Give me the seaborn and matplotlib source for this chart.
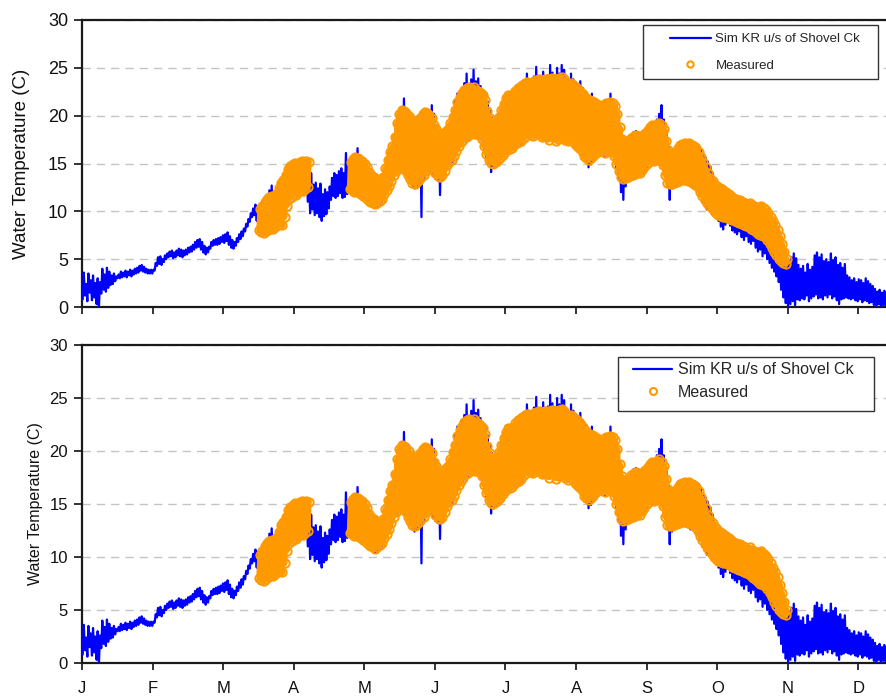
import numpy as np
import pandas as pd
import matplotlib
matplotlib.use("Agg")
import matplotlib.pyplot as plt
import seaborn as sns
from matplotlib.lines import Line2D
from matplotlib.patches import Rectangle

# ---------------------------------------------------------------------------
# Data: daily minimum / maximum water temperature (deg C), day of year 0 = Jan 1
# ---------------------------------------------------------------------------
month_labels = ["J", "F", "M", "A", "M", "J", "J", "A", "S", "O", "N", "D"]

sim_start_day = 0
sim_high = [
    3.6, 2.4, 3.5, 2.8, 3.3, 2.5, 3.0, 2.6, 4.0, 3.4,
    4.1, 3.7, 3.3, 3.5, 3.2, 3.4, 3.7, 3.6, 3.8, 3.7,
    3.9, 3.8, 4.0, 4.1, 4.3, 4.4, 4.2, 4.0, 3.9, 3.9,
    3.9, 4.6, 5.2, 5.3, 5.0, 5.4, 5.6, 5.8, 5.9, 5.7,
    5.9, 6.1, 6.0, 5.9, 6.0, 6.2, 6.3, 6.5, 6.8, 7.0,
    7.1, 6.8, 6.4, 6.2, 6.3, 6.8, 7.0, 7.1, 7.2, 7.3,
    7.5, 7.6, 7.8, 7.4, 7.0, 6.8, 7.2, 7.6, 7.9, 8.2,
    8.7, 9.2, 9.8, 10.3, 10.7, 10.5, 10.1, 10.4, 10.9, 11.6,
    12.2, 12.7, 11.8, 12.4, 12.9, 13.2, 13.0, 13.6, 14.2, 14.6,
    14.8, 15.0, 14.6, 15.1, 15.3, 15.0, 15.4, 15.2, 14.0, 12.8,
    13.0, 12.4, 12.9, 11.8, 12.3, 12.0, 12.6, 13.5, 14.0, 13.8,
    14.2, 14.5, 14.0, 16.1, 14.7, 14.8, 15.6, 15.9, 16.6, 15.8,
    15.5, 15.2, 14.9, 14.3, 13.9, 13.6, 13.3, 13.1, 13.2, 13.5,
    14.2, 15.0, 15.8, 16.5, 17.5, 19.0, 20.4, 20.8, 21.8, 20.5,
    20.6, 19.8, 19.5, 19.2, 19.0, 19.4, 19.9, 20.3, 20.6, 20.4,
    21.1, 20.2, 19.0, 18.4, 18.0, 18.2, 18.6, 18.9, 19.3, 20.2,
    21.5, 22.3, 22.4, 22.9, 23.4, 24.4, 23.0, 23.8, 24.8, 23.6,
    23.9, 23.1, 22.7, 22.4, 21.5, 20.5, 19.8, 19.3, 19.0, 19.3,
    19.8, 20.6, 21.3, 21.8, 22.3, 22.0, 22.6, 23.0, 22.5, 23.2,
    23.6, 24.4, 23.8, 23.5, 24.1, 25.1, 24.0, 23.7, 24.6, 23.9,
    24.2, 25.3, 24.5, 23.9, 25.0, 24.4, 25.3, 24.8, 24.0, 23.6,
    24.4, 23.8, 23.5, 23.2, 23.6, 22.9, 22.6, 22.0, 21.9, 22.3,
    21.7, 21.4, 21.2, 21.0, 21.3, 21.6, 21.2, 22.3, 21.4, 21.0,
    20.0, 18.5, 17.6, 17.2, 17.0, 17.5, 18.0, 18.3, 18.4, 18.2,
    18.1, 18.3, 18.0, 18.6, 18.9, 19.2, 19.0, 19.6, 20.2, 21.1,
    19.6, 18.5, 16.8, 16.2, 16.0, 15.9, 16.4, 16.8, 17.0, 17.3,
    16.9, 17.2, 16.8, 17.0, 16.7, 16.9, 16.4, 15.9, 15.6, 15.2,
    14.7, 14.0, 13.2, 12.6, 12.4, 12.6, 12.2, 12.0, 11.9, 11.7,
    11.3, 11.4, 11.0, 11.2, 10.8, 11.0, 10.7, 10.9, 10.6, 10.4,
    10.5, 10.3, 10.7, 10.4, 10.1, 9.6, 9.4, 9.1, 8.8, 8.2,
    7.4, 6.3, 5.4, 4.6, 4.8, 5.2, 5.6, 5.1, 4.4, 4.0,
    4.3, 3.6, 4.5, 3.9, 4.2, 5.4, 5.7, 5.2, 5.5, 4.8,
    5.0, 4.7, 5.6, 4.9, 5.2, 4.4, 4.6, 4.1, 4.5, 3.3,
    3.1, 2.8, 3.0, 2.6, 2.9, 2.8, 2.5, 3.0, 2.7, 2.4,
    2.2, 1.9, 1.6, 1.8, 1.5, 1.7, 1.6,
]
sim_low = [
    0.8, 1.2, 0.6, 1.5, 0.7, 1.0, 0.3, 0.0, 1.4, 1.8,
    1.6, 2.0, 2.3, 2.4, 2.7, 3.0, 3.0, 3.1, 3.2, 3.1,
    3.3, 3.2, 3.4, 3.5, 3.6, 3.8, 3.7, 3.6, 3.5, 3.5,
    3.5, 3.8, 4.3, 4.5, 4.4, 4.7, 5.0, 5.2, 5.3, 5.1,
    5.2, 5.4, 5.3, 5.2, 5.4, 5.5, 5.7, 5.8, 6.0, 6.2,
    6.3, 6.0, 5.7, 5.5, 5.7, 6.1, 6.4, 6.5, 6.5, 6.6,
    6.8, 6.7, 6.9, 6.5, 6.2, 6.1, 6.4, 6.8, 7.1, 7.4,
    7.9, 8.4, 8.9, 9.4, 9.6, 9.0, 8.3, 7.9, 8.1, 8.6,
    8.8, 9.1, 8.9, 8.7, 9.2, 9.0, 8.5, 9.4, 10.5, 11.2,
    11.5, 11.8, 11.6, 12.0, 12.2, 12.1, 12.4, 11.0, 9.8, 10.2,
    9.6, 9.8, 9.4, 9.0, 9.5, 9.7, 10.3, 11.2, 11.6, 11.4,
    11.6, 11.9, 11.4, 11.5, 11.8, 12.0, 12.2, 12.4, 12.6, 12.3,
    12.1, 11.8, 11.6, 11.3, 11.1, 10.6, 10.4, 10.5, 10.7, 11.0,
    11.6, 12.0, 12.4, 12.9, 13.4, 14.0, 14.2, 14.4, 14.3, 14.0,
    13.4, 13.0, 12.6, 12.4, 12.6, 12.8, 9.4, 13.2, 13.8, 14.2,
    14.3, 13.8, 13.4, 13.2, 11.7, 13.3, 13.9, 14.4, 14.8, 15.1,
    15.5, 16.0, 16.5, 16.9, 17.2, 17.5, 17.6, 17.8, 17.9, 17.8,
    17.9, 17.7, 17.3, 16.5, 15.6, 15.0, 14.1, 14.6, 14.9, 15.1,
    15.4, 15.7, 16.0, 16.2, 16.3, 16.4, 16.6, 16.8, 16.9, 17.0,
    17.6, 17.9, 18.2, 18.0, 17.8, 18.2, 18.4, 18.0, 17.6, 17.9,
    17.8, 17.4, 17.9, 18.1, 17.3, 17.6, 17.7, 18.0, 17.4, 17.2,
    17.8, 17.5, 17.2, 17.0, 16.8, 16.4, 15.6, 15.2, 14.6, 14.9,
    15.2, 15.7, 16.0, 16.2, 16.0, 15.8, 16.1, 16.3, 16.0, 15.5,
    14.6, 13.4, 12.0, 11.2, 12.6, 13.2, 13.5, 13.6, 13.8, 13.7,
    13.9, 14.2, 14.0, 14.6, 15.0, 15.3, 15.2, 15.4, 15.6, 15.5,
    15.0, 14.0, 12.6, 11.2, 12.4, 12.8, 13.0, 13.2, 13.4, 13.3,
    13.0, 12.8, 12.6, 12.7, 12.4, 12.2, 11.6, 11.0, 10.6, 10.2,
    11.0, 10.6, 10.0, 9.6, 9.0, 8.4, 8.1, 8.6, 8.9, 8.5,
    8.0, 7.8, 7.6, 7.9, 7.3, 7.0, 7.4, 6.8, 6.6, 6.9,
    6.2, 5.8, 6.0, 5.3, 5.6, 5.0, 4.6, 4.1, 3.7, 3.2,
    2.6, 1.8, 1.0, 0.4, 0.0, 0.3, 0.6, 0.2, 0.8, 0.7,
    0.9, 0.8, 1.2, 0.6, 0.9, 1.1, 1.3, 0.9, 1.0, 0.8,
    1.2, 1.0, 1.3, 0.9, 1.1, 0.7, 0.3, 0.8, 0.9, 1.0,
    0.9, 0.8, 0.9, 0.7, 0.6, 0.8, 0.5, 0.7, 0.6, 0.4,
    0.5, 0.2, 0.1, 0.3, 0.0, 0.2, 0.1,
]

# Measured record, first deployment (from day 76)
meas1_start_day = 76
meas1_high = [
    10.2, 10.6, 11.0, 11.3,
    11.5, 11.6, 11.4, 11.8, 12.4, 13.0, 13.3, 13.8, 14.4, 14.7,
    14.9, 15.1, 14.8, 15.2, 15.3, 15.1, 15.3, 15.2,
]
meas1_low = [
    8.0, 7.8, 7.7, 7.9,
    8.1, 8.3, 8.2, 8.4, 8.6, 8.7, 8.6, 9.4, 10.6, 11.3,
    11.5, 11.8, 11.7, 12.0, 12.2, 12.1, 12.3, 12.5,
]

# Measured record, second deployment (from day 115)
meas2_start_day = 115
meas2_high = [
    15.2, 15.5, 15.7, 15.6, 15.4,
    15.3, 15.0, 14.6, 14.1, 13.8, 13.6, 13.4, 13.2, 13.3, 13.6,
    14.5, 15.4, 16.2, 16.8, 17.8, 19.2, 20.2, 20.6, 20.5, 20.3,
    20.0, 19.6, 19.3, 19.0, 19.4, 19.8, 20.2, 20.4, 20.3, 20.1,
    19.8, 19.0, 18.6, 18.2, 17.9, 18.0, 18.4, 18.6, 19.2, 19.9,
    20.6, 21.4, 22.0, 22.4, 22.7, 22.9, 23.0, 22.8, 23.0, 22.7,
    22.6, 22.4, 22.2, 21.6, 20.5, 19.8, 19.2, 19.0, 19.3, 19.9,
    20.6, 21.2, 21.8, 22.2, 22.0, 22.3, 22.6, 22.9, 23.0, 23.2,
    23.4, 23.5, 23.3, 23.4, 23.6, 23.7, 23.8, 23.6, 23.7, 23.8,
    23.8, 23.7, 23.9, 23.8, 23.6, 23.9, 24.0, 23.8, 23.5, 23.3,
    23.4, 23.2, 23.0, 22.8, 22.6, 22.3, 22.0, 21.7, 21.6, 21.5,
    21.4, 21.2, 21.0, 20.9, 21.1, 21.3, 21.2, 21.4, 21.3, 21.0,
    20.2, 18.8, 17.6, 17.3, 17.2, 17.4, 17.7, 17.9, 18.0, 17.9,
    17.8, 18.0, 18.2, 18.5, 18.8, 19.0, 18.9, 19.1, 19.2, 19.0,
    18.6, 17.4, 16.4, 16.1, 16.0, 16.2, 16.6, 16.9, 17.0, 17.1,
    17.0, 17.1, 16.9, 16.8, 16.6, 16.2, 15.7, 15.2, 14.6, 14.0,
    13.5, 13.2, 12.8, 12.6, 12.4, 12.3, 12.1, 12.0, 11.8, 11.6,
    11.4, 11.3, 11.1, 11.2, 11.0, 10.9, 10.8, 10.9, 10.7, 10.6,
    10.5, 10.4, 10.6, 10.3, 10.1, 9.8, 9.4, 9.0, 8.6, 8.1,
    7.4, 6.6, 5.8, 5.0,
]
meas2_low = [
    12.3, 12.2, 12.0, 12.1, 11.9,
    11.8, 11.6, 11.4, 11.2, 11.0, 10.9, 10.8, 10.9, 11.1, 11.3,
    11.8, 12.2, 12.6, 13.2, 13.8, 14.2, 14.4, 14.6, 14.5, 14.3,
    13.8, 13.4, 13.0, 12.9, 13.1, 13.3, 13.6, 13.8, 14.2, 14.5,
    14.6, 14.3, 14.0, 13.7, 13.6, 13.8, 14.2, 14.8, 15.2, 15.4,
    15.8, 16.3, 16.8, 17.2, 17.5, 17.8, 17.9, 18.1, 18.2, 18.1,
    18.2, 18.0, 17.6, 16.8, 16.0, 15.4, 15.1, 15.0, 15.2, 15.4,
    15.6, 15.9, 16.2, 16.4, 16.5, 16.6, 16.9, 17.1, 17.2, 17.4,
    17.7, 17.9, 18.1, 18.0, 17.9, 18.2, 18.3, 18.1, 17.8, 17.9,
    17.8, 17.5, 17.9, 18.0, 17.4, 17.6, 17.7, 18.0, 17.5, 17.3,
    17.6, 17.4, 17.0, 16.8, 16.6, 16.3, 15.8, 15.6, 15.4, 15.6,
    15.8, 16.0, 16.2, 16.4, 16.3, 16.1, 16.3, 16.4, 16.2, 15.8,
    15.0, 14.2, 13.6, 13.4, 13.5, 13.6, 13.7, 13.8, 13.9, 14.0,
    14.0, 14.3, 14.6, 15.0, 15.2, 15.4, 15.3, 15.4, 15.5, 15.4,
    14.8, 13.8, 13.0, 12.9, 12.9, 13.0, 13.1, 13.2, 13.3, 13.3,
    13.3, 13.2, 13.1, 13.0, 12.8, 12.5, 12.0, 11.6, 11.2, 10.9,
    10.6, 10.3, 10.0, 9.8, 9.6, 9.5, 9.4, 9.4, 9.3, 9.2,
    9.1, 9.0, 8.9, 8.8, 8.7, 8.6, 8.5, 8.4, 8.2, 8.0,
    7.8, 7.6, 7.5, 7.4, 7.3, 7.0, 6.6, 6.2, 5.8, 5.4,
    5.0, 4.8, 4.6, 4.5,
]

SIM_LABEL = "Sim KR u/s of Shovel Ck"
MEAS_LABEL = "Measured"
BLUE = "#0000ff"
ORANGE = "#ff9900"


def daily_cycle(start_day, low, high, seg):
    """Alternate each day's morning low and afternoon high into one trace."""
    days = start_day + np.arange(len(low))
    t = np.column_stack([days + 0.30, days + 0.75]).ravel()
    v = np.column_stack([low, high]).ravel()
    return pd.DataFrame({"day": t, "temp": v, "seg": seg})


sim_df = daily_cycle(sim_start_day, sim_low, sim_high, 0)
meas_df = pd.concat([
    daily_cycle(meas1_start_day, meas1_low, meas1_high, 1),
    daily_cycle(meas2_start_day, meas2_low, meas2_high, 2),
], ignore_index=True)

sns.set_style("ticks")
plt.rcParams["font.family"] = ["Liberation Sans", "DejaVu Sans"]

W, H = 886, 698
fig = plt.figure(figsize=(W / 100, H / 100), dpi=100)


def px_axes(left, top, right, bottom):
    return fig.add_axes([left / W, 1 - bottom / H, (right - left) / W, (bottom - top) / H])


ax_top = px_axes(82, 20, 886, 307)
ax_bot = px_axes(82, 345, 886, 663)

month_ticks = np.arange(12) * 365 / 12


def draw_panel(ax, tick_fs, label_fs, label_x, show_months, leg):
    ax.set_axisbelow(True)
    ax.yaxis.grid(True, color="#c4c4c4", lw=1.0, ls=(0, (6, 4.3)))
    ax.xaxis.grid(False)

    sns.lineplot(data=sim_df, x="day", y="temp", units="seg", estimator=None,
                 color=BLUE, lw=1.6, ax=ax, legend=False, zorder=3)
    sns.lineplot(data=meas_df, x="day", y="temp", units="seg", estimator=None,
                 color=ORANGE, lw=4.0, marker="o", markersize=6,
                 markerfacecolor="none", markeredgecolor=ORANGE,
                 markeredgewidth=1.4, ax=ax, legend=False, zorder=4)

    ax.set_xlim(0, 346.5)
    ax.set_ylim(0, 30)
    ax.set_yticks(range(0, 31, 5))
    ax.set_xticks(month_ticks)
    if show_months:
        ax.set_xticklabels(month_labels, fontsize=12)
    else:
        ax.set_xticklabels([])
    ax.tick_params(axis="y", direction="out", length=6, width=1.2,
                   labelsize=tick_fs, pad=4, colors="#111111")
    ax.tick_params(axis="x", direction="out", length=5, width=1.2,
                   pad=8, colors="#111111")
    ax.set_xlabel("")
    ax.set_ylabel("Water Temperature (C)", fontsize=label_fs, color="#111111")
    ax.yaxis.set_label_coords(label_x, 0.5)

    for side in ("top", "left", "bottom"):
        ax.spines[side].set_visible(True)
        ax.spines[side].set_linewidth(1.6)
        ax.spines[side].set_color("#1a1a1a")
    ax.spines["right"].set_visible(False)

    # legend box
    x0, y0, x1, y1 = leg["box"]
    ax.add_patch(Rectangle((x0, y0), x1 - x0, y1 - y0, transform=ax.transAxes,
                           facecolor="white", edgecolor="#333333", lw=1.0,
                           zorder=10, clip_on=False))
    handles = [
        Line2D([], [], color=BLUE, lw=1.6),
        Line2D([], [], ls="none", marker="o", markersize=leg["ms"],
               markerfacecolor="none", markeredgecolor=ORANGE, markeredgewidth=1.5),
    ]
    lg = ax.legend(handles, [SIM_LABEL, MEAS_LABEL], loc="upper left",
                   bbox_to_anchor=leg["anchor"], borderaxespad=0, borderpad=0,
                   frameon=False, fontsize=leg["fs"], handlelength=leg["hl"],
                   handletextpad=leg["htp"], labelspacing=leg["ls"])
    lg.set_zorder(11)


draw_panel(ax_top, tick_fs=13, label_fs=13.5, label_x=-0.065, show_months=False,
           leg=dict(box=(0.6978, 0.7944, 0.990, 0.9826), anchor=(0.7313, 0.955),
                    fs=9.5, hl=3.1, htp=0.35, ls=1.1, ms=4.5))
draw_panel(ax_bot, tick_fs=12, label_fs=11.5, label_x=-0.049, show_months=True,
           leg=dict(box=(0.6667, 0.7925, 0.985, 0.9623), anchor=(0.6853, 0.945),
                    fs=11.5, hl=2.45, htp=0.35, ls=0.45, ms=5))

fig.savefig("out.png", dpi=100)
